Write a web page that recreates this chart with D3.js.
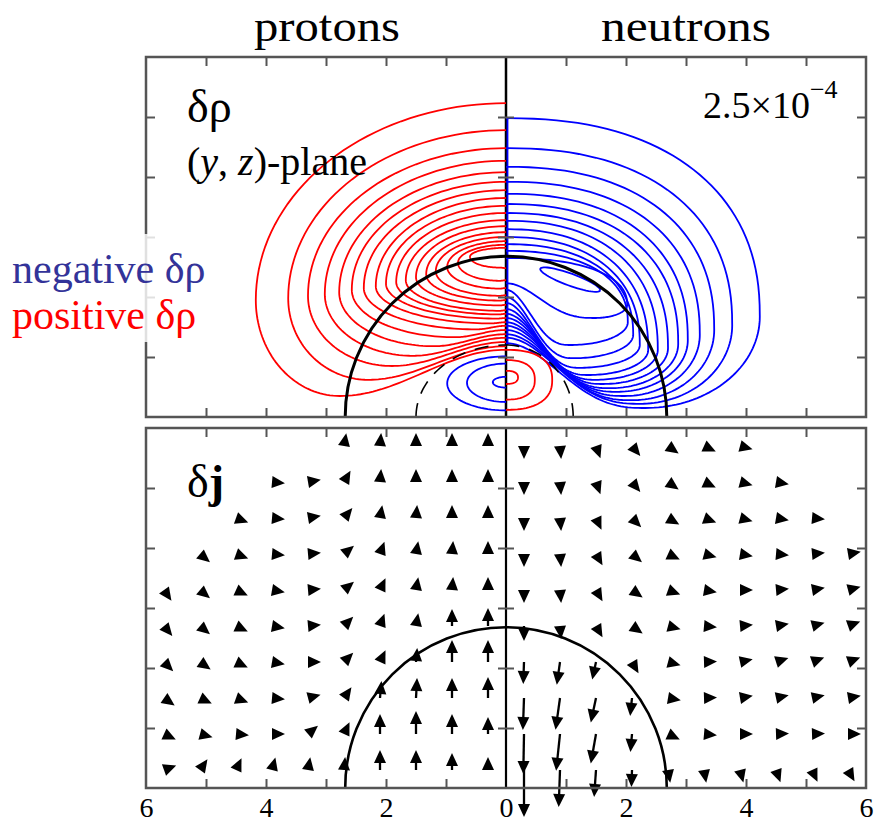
<!DOCTYPE html>
<html>
<head>
<meta charset="utf-8">
<script src="https://cdn.jsdelivr.net/npm/d3@7"></script>
<style>
body { margin: 0; background: #fff; }
svg { display: block; }
</style>
</head>
<body>
<div class="figure"></div>
<script>
// contours: [zTop, rMax, zAtMax, rLow, zLow, zEnd]  (fm)
var protonPos = [
    [5.23, 4.17, 1.95, 2.77, 0.35, 1.12],
    [4.78, 3.63, 1.98, 2.30, 0.62, 1.18],
    [4.48, 3.30, 2.02, 1.90, 0.85, 1.25],
    [4.27, 3.02, 2.05, 1.55, 1.02, 1.32],
    [4.08, 2.78, 2.08, 1.20, 1.18, 1.38],
    [3.92, 2.57, 2.12, 0.85, 1.33, 1.45],
    [3.78, 2.37, 2.15, 0.50, 1.46, 1.52],
    [3.65, 2.17, 2.18, 0.25, 1.56, 1.58],
    [3.52, 2.00, 2.22, 0.15, 1.64, 1.65],
    [3.40, 1.83, 2.25, 0.12, 1.71, 1.72],
    [3.28, 1.67, 2.28, 0.10, 1.77, 1.78],
    [3.18, 1.50, 2.33, 0.10, 1.86, 1.87],
    [3.08, 1.33, 2.38, 0.10, 1.94, 1.95],
    [3.00, 1.17, 2.43, 0.10, 2.02, 2.03],
    [2.93, 0.98, 2.50, 0.10, 2.14, 2.15],
    [2.87, 0.80, 2.57, 0.10, 2.27, 2.28],
    [2.82, 0.60, 2.67, 0.10, 2.49, 2.48]
];
var neutronNeg = [
    [4.98, 4.23, 1.67, 2.32, 0.15, 1.23],
    [4.48, 3.77, 1.53, 2.23, 0.22, 1.32],
    [4.17, 3.47, 1.45, 2.10, 0.28, 1.38],
    [3.92, 3.23, 1.37, 1.98, 0.35, 1.45],
    [3.72, 3.03, 1.28, 1.85, 0.42, 1.52],
    [3.55, 2.87, 1.22, 1.73, 0.48, 1.58],
    [3.40, 2.70, 1.15, 1.62, 0.55, 1.65],
    [3.27, 2.53, 1.12, 1.50, 0.62, 1.72],
    [3.13, 2.37, 1.12, 1.37, 0.70, 1.80],
    [3.00, 2.23, 1.20, 1.23, 0.82, 1.90],
    [2.88, 2.12, 1.37, 1.13, 0.98, 2.00],
    [2.77, 2.03, 1.58, 1.07, 1.20, 2.12],
    [2.65, 2.02, 1.87, 1.48, 1.65, 2.23]
];
// small loops on the axis: [zCentre, rX, rZ]
var protonNegLoops = [[0.56, 0.98, 0.45], [0.57, 0.65, 0.32], [0.58, 0.22, 0.09]];
var neutronPosLoops = [[0.62, 0.77, 0.50], [0.62, 0.48, 0.33], [0.66, 0.20, 0.11]];
// closed island: [rC, zC, a, b, tilt deg]
var neutronIsland = [1.07, 2.29, 0.53, 0.10, -20];
var neutronAxisLine = [1.2, 4.98];
var surfaceR = 2.68;
var dashedLeft = [1.50, 1.20];
var dashedRight = [1.12, 1.20];

// current field on grid, angle = screen degrees clockwise from up, len in px
var gridR = [0.3, 0.9, 1.5, 2.1, 2.7, 3.3, 3.9, 4.5, 5.1, 5.7];
var gridZ = [5.7, 5.1, 4.5, 3.9, 3.3, 2.7, 2.1, 1.5, 0.9, 0.3];
var protonAngle = [
    [0, 0, 0, 5, 10, null, null, null, null, null],
    [0, 0, 0, 5, 30, 80, 95, null, null, null],
    [0, 0, 5, 10, 40, 80, 95, 110, null, null],
    [0, 5, 10, 20, 50, 85, 95, 110, 130, null],
    [0, 5, 10, 25, 50, 85, 100, 115, 130, 145],
    [0, 0, 10, 20, 45, 85, 100, 115, 130, 140],
    [0, 0, 5, 25, 45, 90, 100, 115, 125, 135],
    [0, 0, 3, 5, 35, 75, 95, 110, 115, 125],
    [0, 0, 0, 0, 25, 50, 90, 95, 105, 115],
    [0, 0, 0, 0, 5, 10, 15, 25, 35, 70]
];
var protonLen = [
    [12, 12, 12, 12, 12, 12, 12, 12, 12, 12],
    [12, 12, 12, 12, 12, 12, 12, 12, 12, 12],
    [12, 12, 12, 12, 12, 12, 12, 12, 12, 12],
    [12, 12, 12, 12, 12, 12, 12, 12, 12, 12],
    [12, 12, 12, 12, 12, 12, 12, 12, 12, 12],
    [18, 17, 12, 12, 12, 12, 12, 12, 12, 12],
    [22, 22, 14, 12, 12, 12, 12, 12, 12, 12],
    [21, 20, 20, 17, 12, 12, 12, 12, 12, 12],
    [17, 20, 23, 20, 12, 12, 12, 12, 12, 12],
    [13, 17, 20, 20, 12, 12, 12, 12, 12, 12]
];
var neutronAngle = [
    [180, 175, 160, 140, 125, 115, 105, null, null, null],
    [180, 175, 160, 140, 125, 115, 105, 100, null, null],
    [180, 175, 155, 135, 120, 110, 105, 100, 95, null],
    [180, 175, 150, 130, 115, 105, 100, 95, 85, 80],
    [180, 175, 150, 125, 110, 100, 90, 85, 80, 75],
    [180, 175, 150, 125, 105, 95, 85, 80, 75, 70],
    [182, 188, 192, 150, 105, 88, 78, 72, 70, 70],
    [182, 188, 192, 186, 100, 88, 80, 78, 78, 80],
    [181, 186, 190, 185, 115, 95, 90, 88, 88, 90],
    [180, 182, 184, 182, 170, 170, 165, 160, 155, 150]
];
var neutronLen = [
    [12, 12, 12, 12, 12, 12, 12, 12, 12, 12],
    [12, 12, 12, 12, 12, 12, 12, 12, 12, 12],
    [12, 12, 12, 12, 12, 12, 12, 12, 12, 12],
    [12, 12, 12, 12, 12, 12, 12, 12, 12, 12],
    [12, 12, 12, 12, 12, 12, 12, 12, 12, 12],
    [15, 13, 12, 12, 12, 12, 12, 12, 12, 12],
    [22, 23, 18, 12, 12, 12, 12, 12, 12, 12],
    [32, 32, 25, 18, 12, 12, 12, 12, 12, 12],
    [40, 37, 30, 18, 12, 12, 12, 12, 12, 12],
    [47, 37, 27, 17, 12, 12, 12, 12, 12, 12]
];
var xTickLabels = [-6, -4, -2, 0, 2, 4, 6];
var xMinor = [-5, -4, -3, -2, -1, 1, 2, 3, 4, 5];
var yMinor = [1, 2, 3, 4, 5];

var w = 874, h = 824;
var serif = "'Liberation Serif', 'Times New Roman', serif";
var frameColor = "#555";

var svg = d3.select(".figure").append("svg")
    .attr("width", w)
    .attr("height", h);

var x = d3.scaleLinear().domain([-6, 6]).range([146, 866]);
var yTop = d3.scaleLinear().domain([0, 6]).range([417, 57]);
var yBot = d3.scaleLinear().domain([0, 6]).range([788, 428]);

function spow(v, e) { return Math.sign(v) * Math.pow(Math.abs(v), e); }

// one open contour from the axis round and back to the axis
function contourPts(c, p, p2, q) {
    var zt = c[0], rm = c[1], zm = c[2], rb = c[3], zb = c[4], ze = c[5];
    var pts = [], n = 40, i, th, t;
    for (i = 0; i <= n; i++) {
        th = Math.PI / 2 * (1 - i / n);
        pts.push([rm * spow(Math.cos(th), 2 / p), zm + (zt - zm) * spow(Math.sin(th), 2 / p)]);
    }
    for (i = 1; i <= n; i++) {
        th = Math.PI / 2 * i / n;
        pts.push([rb + (rm - rb) * spow(Math.cos(th), 2 / p2), zm - (zm - zb) * spow(Math.sin(th), 2 / p2)]);
    }
    for (i = 1; i <= n; i++) {
        t = i / n;
        pts.push([rb * (1 - t), zb + (ze - zb) * (1 - Math.cos(Math.PI * Math.pow(t, q))) / 2]);
    }
    return pts;
}
function loopPts(l, p) {
    var pts = [], n = 50;
    for (var i = 0; i <= n; i++) {
        var th = Math.PI / 2 - Math.PI * i / n;
        pts.push([l[1] * spow(Math.cos(th), 2 / p), l[0] + l[2] * spow(Math.sin(th), 2 / p)]);
    }
    return pts;
}
function islandPts(s) {
    var pts = [], n = 60, a = s[4] * Math.PI / 180;
    for (var i = 0; i <= n; i++) {
        var th = 2 * Math.PI * i / n;
        var u = s[2] * Math.cos(th), v = s[3] * Math.sin(th);
        pts.push([s[0] + u * Math.cos(a) - v * Math.sin(a), s[1] + u * Math.sin(a) + v * Math.cos(a)]);
    }
    return pts;
}
function quarterPts(e) {
    var pts = [], n = 40;
    for (var i = 0; i <= n; i++) {
        var th = Math.PI / 2 * i / n;
        pts.push([e[0] * Math.cos(th), e[1] * Math.sin(th)]);
    }
    return pts;
}

function lineFor(side, yS) {
    return d3.line()
        .x(function (d) { return x(side * d[0]); })
        .y(function (d) { return yS(d[1]); });
}

// ---------- top panel : delta rho ----------
var gTop = svg.append("g");
var lineL = lineFor(-1, yTop), lineR = lineFor(1, yTop);

gTop.append("line")
    .attr("x1", x(0)).attr("x2", x(0))
    .attr("y1", yTop(6)).attr("y2", yTop(0))
    .attr("stroke", "#000").attr("stroke-width", 2.5);

gTop.selectAll(".pp").data(protonPos).enter().append("path")
    .attr("d", function (d) { return lineL(contourPts(d, 2, 2, 1)); })
    .attr("fill", "none").attr("stroke", "#ff0000").attr("stroke-width", 1.8);

gTop.selectAll(".pn").data(protonNegLoops).enter().append("path")
    .attr("d", function (d) { return lineL(loopPts(d, 2)); })
    .attr("fill", "none").attr("stroke", "#0000ff").attr("stroke-width", 1.8);

gTop.append("line")
    .attr("x1", x(0.025)).attr("x2", x(0.025))
    .attr("y1", yTop(neutronAxisLine[1])).attr("y2", yTop(neutronAxisLine[0]))
    .attr("stroke", "#0000ff").attr("stroke-width", 1.8);

gTop.selectAll(".nn").data(neutronNeg).enter().append("path")
    .attr("d", function (d) { return lineR(contourPts(d, 2.3, 2.0, 1.3)); })
    .attr("fill", "none").attr("stroke", "#0000ff").attr("stroke-width", 1.8);

gTop.append("path")
    .attr("d", lineR(islandPts(neutronIsland)))
    .attr("fill", "none").attr("stroke", "#0000ff").attr("stroke-width", 1.8);

gTop.selectAll(".np").data(neutronPosLoops).enter().append("path")
    .attr("d", function (d) { return lineR(loopPts(d, 2.4)); })
    .attr("fill", "none").attr("stroke", "#ff0000").attr("stroke-width", 1.8);

gTop.append("path").attr("d", lineL(quarterPts(dashedLeft)))
    .attr("fill", "none").attr("stroke", "#000").attr("stroke-width", 1.6)
    .attr("stroke-dasharray", "14,10");
gTop.append("path").attr("d", lineR(quarterPts(dashedRight)))
    .attr("fill", "none").attr("stroke", "#000").attr("stroke-width", 1.6)
    .attr("stroke-dasharray", "14,10");

function surface(g, yS, sw) {
    var p = d3.path();
    var rpx = x(surfaceR) - x(0);
    p.arc(x(0), yS(0), rpx, Math.PI, 2 * Math.PI);
    g.append("path").attr("d", p.toString())
        .attr("fill", "none").attr("stroke", "#000").attr("stroke-width", sw);
}
surface(gTop, yTop, 3);

// ---------- bottom panel : delta j ----------
var gBot = svg.append("g");
gBot.append("line")
    .attr("x1", x(0)).attr("x2", x(0))
    .attr("y1", yBot(6)).attr("y2", yBot(0))
    .attr("stroke", "#000").attr("stroke-width", 2.2);
surface(gBot, yBot, 2.6);

function drawArrows(angles, lens, side) {
    var arrows = [];
    angles.forEach(function (row, i) {
        row.forEach(function (a, j) {
            if (a === null) return;
            arrows.push({ r: gridR[j], z: gridZ[i], a: a, len: lens[i][j] });
        });
    });
    var g = gBot.append("g");
    arrows.forEach(function (d) {
        var x0 = x(side * d.r), y0 = yBot(d.z);
        var rad = d.a * Math.PI / 180;
        var dx = Math.sin(rad), dy = -Math.cos(rad);
        var hl = 13, hw = 6;
        var L = Math.max(d.len, hl);
        var tx = x0 + dx * L, ty = y0 + dy * L;
        var bx = tx - dx * hl, by = ty - dy * hl;
        if (d.len > hl) {
            g.append("line")
                .attr("x1", x0).attr("y1", y0)
                .attr("x2", bx + dx * 2).attr("y2", by + dy * 2)
                .attr("stroke", "#000").attr("stroke-width", 2.3);
        }
        g.append("path")
            .attr("d", "M" + tx + "," + ty +
                "L" + (bx - dy * hw) + "," + (by + dx * hw) +
                "L" + (bx + dy * hw) + "," + (by - dx * hw) + "Z")
            .attr("fill", "#000");
    });
}
drawArrows(protonAngle, protonLen, -1);
drawArrows(neutronAngle, neutronLen, 1);

// ---------- frames and ticks ----------
function frame(yS) {
    var g = svg.append("g");
    var y0 = yS.range()[1], y1 = yS.range()[0];
    var axes = [
        [d3.axisTop(x).tickValues(xMinor).tickSizeInner(-9), 0, y0],
        [d3.axisBottom(x).tickValues(xMinor).tickSizeInner(-9), 0, y1],
        [d3.axisLeft(yS).tickValues(yMinor).tickSizeInner(-9), 146, 0],
        [d3.axisRight(yS).tickValues(yMinor).tickSizeInner(-9), 866, 0],
        [d3.axisLeft(yS).tickValues(yMinor).tickSizeInner(8), x(0), 0],
        [d3.axisRight(yS).tickValues(yMinor).tickSizeInner(8), x(0), 0]
    ];
    axes.forEach(function (a) {
        var ax = g.append("g")
            .attr("transform", "translate(" + a[1] + "," + a[2] + ")")
            .call(a[0].tickSizeOuter(0).tickFormat(""));
        ax.select(".domain").remove();
        ax.selectAll(".tick line").attr("stroke", frameColor).attr("stroke-width", 2);
    });
    g.append("rect")
        .attr("x", 146).attr("y", y0)
        .attr("width", 720).attr("height", y1 - y0)
        .attr("fill", "none").attr("stroke", frameColor).attr("stroke-width", 2.5);
}
frame(yTop);
frame(yBot);

var xAxis = svg.append("g")
    .attr("transform", "translate(0," + yBot(0) + ")")
    .call(d3.axisBottom(x).tickValues(xTickLabels).tickSize(0).tickPadding(9)
        .tickFormat(function (d) { return Math.abs(d); }));
xAxis.select(".domain").remove();
xAxis.selectAll("text")
    .attr("font-family", serif).attr("font-size", 28).attr("fill", "#000");

// ---------- text ----------
svg.append("text").attr("x", 327).attr("y", 41)
    .attr("text-anchor", "middle").attr("font-family", serif).attr("font-size", 44)
    .attr("textLength", 146).attr("lengthAdjust", "spacingAndGlyphs")
    .text("protons");
svg.append("text").attr("x", 686).attr("y", 41)
    .attr("text-anchor", "middle").attr("font-family", serif).attr("font-size", 44)
    .attr("textLength", 170).attr("lengthAdjust", "spacingAndGlyphs")
    .text("neutrons");

svg.append("text").attr("x", 187).attr("y", 122)
    .attr("font-family", serif).attr("font-size", 46)
    .text("δρ");

var plane = svg.append("text").attr("x", 187).attr("y", 175)
    .attr("font-family", serif).attr("font-size", 40);
plane.append("tspan").text("(");
plane.append("tspan").attr("font-style", "italic").text("y");
plane.append("tspan").text(", ");
plane.append("tspan").attr("font-style", "italic").text("z");
plane.append("tspan").text(")-plane");

var sci = svg.append("text").attr("x", 703).attr("y", 118)
    .attr("font-family", serif).attr("font-size", 38);
sci.append("tspan").text("2.5×10");
sci.append("tspan").attr("font-size", 26).attr("dy", -20).text("−4");

var dj = svg.append("text").attr("x", 187).attr("y", 497)
    .attr("font-family", serif).attr("font-size", 46);
dj.append("tspan").text("δ");
dj.append("tspan").attr("font-weight", "bold").text("j");

svg.append("rect")
    .attr("x", 0).attr("y", 234).attr("width", 222).attr("height", 108)
    .attr("fill", "#fff").attr("opacity", 0.82);
svg.append("text").attr("x", 12).attr("y", 283)
    .attr("font-family", serif).attr("font-size", 42).attr("fill", "#333399")
    .text("negative δρ");
svg.append("text").attr("x", 12).attr("y", 329)
    .attr("font-family", serif).attr("font-size", 42).attr("fill", "#ff0000")
    .text("positive δρ");
</script>
</body>
</html>
